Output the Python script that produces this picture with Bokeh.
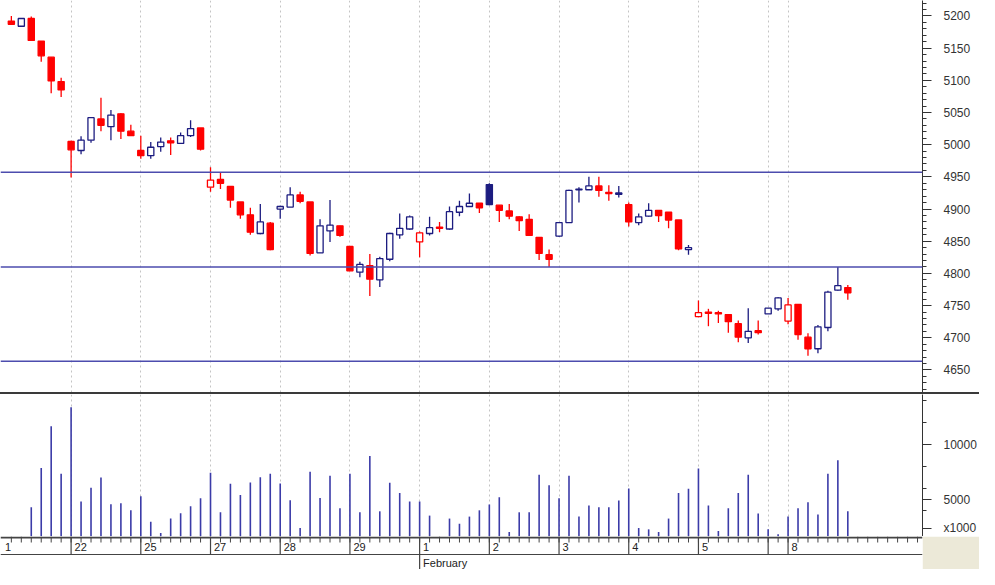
from bokeh.plotting import figure
from bokeh.models import Range1d, FixedTicker, Div, Span, Grid
from bokeh.layouts import column
from bokeh.embed import file_html
from bokeh.resources import INLINE
from bokeh.core.properties import value

# ---------------- data ----------------
opens = [5192, 5184, 5196, 5161, 5136, 5098, 5005, 4991, 5007, 5040,
         5028, 5048, 5021, 4991, 4983, 4997, 5006, 5002, 5014, 5026,
         4934, 4946, 4935, 4911, 4891, 4862, 4878, 4900, 4903, 4922,
         4911, 4832, 4866, 4874, 4842, 4802, 4812, 4790, 4822, 4860,
         4869, 4849, 4862, 4872, 4869, 4895, 4904, 4909, 4938, 4906,
         4897, 4888, 4884, 4856, 4829, 4858, 4879, 4930, 4930, 4936,
         4926, 4923, 4907, 4879, 4889, 4898, 4895, 4883, 4837, 4733,
         4740, 4739, 4736, 4722, 4700, 4711, 4737, 4745, 4726, 4752,
         4701, 4683, 4716, 4774, 4778]
highs = [5200, 5196, 5199, 5161, 5136, 5104, 5006, 5013, 5043, 5073,
         5054, 5049, 5031, 5014, 5004, 5011, 5011, 5019, 5038, 5026,
         4965, 4956, 4935, 4911, 4902, 4908, 4880, 4905, 4934, 4927,
         4911, 4884, 4914, 4874, 4842, 4818, 4830, 4826, 4863, 4893,
         4890, 4865, 4888, 4880, 4904, 4913, 4924, 4909, 4940, 4906,
         4908, 4889, 4892, 4856, 4837, 4880, 4930, 4934, 4950, 4950,
         4937, 4936, 4910, 4893, 4909, 4898, 4895, 4883, 4844, 4758,
         4745, 4742, 4736, 4727, 4746, 4727, 4746, 4763, 4762, 4752,
         4707, 4720, 4773, 4810, 4782]
lows = [5186, 5183, 5162, 5129, 5080, 5074, 4949, 4985, 5003, 5021,
        5007, 5009, 5014, 4978, 4978, 4989, 4984, 5001, 5012, 4991,
        4927, 4931, 4902, 4885, 4860, 4861, 4836, 4885, 4903, 4909,
        4828, 4832, 4849, 4857, 4804, 4794, 4765, 4779, 4819, 4854,
        4868, 4825, 4859, 4864, 4868, 4889, 4903, 4894, 4906, 4880,
        4884, 4866, 4858, 4821, 4810, 4857, 4879, 4910, 4930, 4919,
        4913, 4918, 4873, 4875, 4888, 4880, 4870, 4836, 4829, 4732,
        4718, 4723, 4708, 4693, 4692, 4705, 4737, 4742, 4721, 4697,
        4672, 4676, 4710, 4773, 4759]
closes = [5187, 5196, 5162, 5138, 5099, 5085, 4992, 5007, 5042, 5030,
          5046, 5021, 5014, 4983, 4996, 5004, 5003, 5014, 5025, 4993,
          4945, 4940, 4914, 4891, 4864, 4880, 4837, 4904, 4922, 4912,
          4831, 4874, 4875, 4859, 4804, 4814, 4791, 4823, 4862, 4870,
          4888, 4863, 4871, 4870, 4896, 4904, 4909, 4902, 4907, 4898,
          4889, 4882, 4859, 4831, 4822, 4879, 4929, 4931, 4936, 4929,
          4924, 4925, 4880, 4888, 4898, 4890, 4883, 4838, 4840, 4739,
          4738, 4737, 4725, 4701, 4710, 4708, 4746, 4762, 4751, 4705,
          4683, 4717, 4771, 4781, 4770]
prior_close = 5190
volumes = [1200, 1300, 4290, 7860, 11670, 7350, 13390, 4820, 6070, 7000,
           4580, 4670, 4020, 5300, 2970, 1960, 3270, 3750, 4400, 5120,
           7440, 3840, 6430, 5420, 6550, 7020, 7350, 6460, 4940, 2410,
           7530, 5150, 7170, 4200, 7350, 3840, 8960, 3930, 6520, 5600,
           4820, 4820, 3540, 1400, 3270, 2800, 3450, 4020, 4550, 5210,
           2050, 3840, 3840, 7260, 6310, 5120, 7170, 3450, 4460, 4290,
           4290, 4910, 6010, 2410, 2290, 2050, 3270, 5600, 5980, 7830,
           4460, 2140, 4200, 5600, 7260, 3720, 2290, 1850, 3450, 4200,
           4760, 3630, 7350, 8570, 3930]
level_lines = [4957, 4810, 4663.5]
price_ticks = list(range(4650, 5201, 50))
volume_ticks = [5000, 10000]
volume_unit = "x1000"
volume_unit_at = 2400
day_starts = [-1, 6, 13, 20, 27, 34, 41, 48, 55, 62, 69, 76, 78]
day_labels = ["1", "22", "25", "27", "28", "29", "1", "2", "3", "4", "5", "", "8"]
month_starts = [41]
month_labels = ["February"]
n_slots = 92

# ---------------- derived ----------------
n = len(closes)
idx = list(range(n))
prev = [prior_close] + closes[:-1]
RED = "#FF0000"
NAVY = "#1C1C80"
colors = [NAVY if c >= p else RED for c, p in zip(closes, prev)]
fills = ["white" if c > o else col for o, c, col in zip(opens, closes, colors)]
tops = [max(o, c) for o, c in zip(opens, closes)]
bots = [min(o, c) for o, c in zip(opens, closes)]

W = 979
RB = 55
FONT = "Liberation Sans"
xr = Range1d(-1.09, 91.5)
grid_days = [d for d in day_starts if d >= 0]


def style_axis(ax, ticks, minor):
    ax.ticker = FixedTicker(ticks=ticks, minor_ticks=minor)
    ax.major_tick_in = 0
    ax.major_tick_out = 9
    ax.minor_tick_in = 0
    ax.minor_tick_out = 4
    ax.axis_line_color = "#333333"
    ax.major_tick_line_color = "#333333"
    ax.minor_tick_line_color = "#333333"
    ax.major_label_text_font = FONT
    ax.major_label_text_font_size = "12px"
    ax.major_label_text_color = "#333333"
    ax.major_label_standoff = 12


def day_grid(p):
    p.grid.visible = False
    p.add_layout(Grid(dimension=0, ticker=FixedTicker(ticks=grid_days),
                      grid_line_color="#C4C4C4", grid_line_dash="2 3"))


# ---------------- price panel ----------------
p1 = figure(width=W, height=392, x_range=xr, y_range=Range1d(4615, 5224),
            output_backend="svg", toolbar_location=None,
            y_axis_location="right", x_axis_location=None,
            min_border_left=0, min_border_right=RB, min_border_top=0,
            min_border_bottom=0, outline_line_color=None)
day_grid(p1)
style_axis(p1.yaxis[0], price_ticks, list(range(4620, 5221, 10)))
for lv in level_lines:
    p1.add_layout(Span(location=lv, dimension="width", line_color="#4C4CAE",
                       line_width=1.5))
p1.segment(x0=idx, y0=lows, x1=idx, y1=highs, line_color=colors, line_width=1.3)
p1.vbar(x=idx, width=0.62, top=tops, bottom=bots, fill_color=fills,
        line_color=colors, line_width=1.3)

sep = Div(width=W, height=2, margin=0,
          styles={"background-color": "#3a3a3a", "width": f"{W}px", "height": "2px"})

# ---------------- volume panel ----------------
p2 = figure(width=W, height=142, x_range=xr, y_range=Range1d(1640, 14550),
            output_backend="svg", toolbar_location=None,
            y_axis_location="right", x_axis_location=None,
            min_border_left=0, min_border_right=RB, min_border_top=0,
            min_border_bottom=0, outline_line_color=None)
day_grid(p2)
style_axis(p2.yaxis[0], volume_ticks + [volume_unit_at],
           [4000, 6000, 8000, 12000, 14000])
p2.yaxis[0].major_label_overrides = {volume_unit_at: volume_unit}
p2.segment(x0=idx, y0=[0] * n, x1=idx, y1=volumes, line_color="#3B3BA8",
           line_width=1.6)

# ---------------- date axis ----------------
p3 = figure(width=W, height=33, x_range=xr, y_range=Range1d(0, 33),
            output_backend="svg", toolbar_location=None,
            x_axis_location=None, y_axis_location=None,
            min_border_left=0, min_border_right=RB, min_border_top=0,
            min_border_bottom=0, outline_line_color=None,
            border_fill_color="#ECE9D8")
p3.grid.visible = False
slots = list(range(n_slots))
p3.segment(x0=slots, y0=[33] * n_slots, x1=slots, y1=[27] * n_slots,
           line_color="#444444", line_width=1)
p3.segment(x0=grid_days, y0=[33] * len(grid_days), x1=grid_days,
           y1=[15] * len(grid_days), line_color="#444444", line_width=1.2)
p3.add_layout(Span(location=32, dimension="width", line_color="#444444", line_width=2))
p3.add_layout(Span(location=15, dimension="width", line_color="#444444", line_width=1.2))
p3.segment(x0=month_starts, y0=[15] * len(month_starts), x1=month_starts,
           y1=[0] * len(month_starts), line_color="#444444", line_width=1.2)
p3.text(x=[d + 0.35 for d in day_starts], y=[23] * len(day_starts), text=day_labels,
        text_font=value(FONT), text_font_size=value("11px"),
        text_baseline="middle", text_align="left", text_color="#222222")
p3.text(x=[m + 0.35 for m in month_starts], y=[7] * len(month_starts),
        text=month_labels, text_font=value(FONT), text_font_size=value("11px"),
        text_baseline="middle", text_align="left", text_color="#222222")

layout = column(p1, sep, p2, p3, spacing=0)
open("out.html", "w").write(file_html(layout, INLINE))
